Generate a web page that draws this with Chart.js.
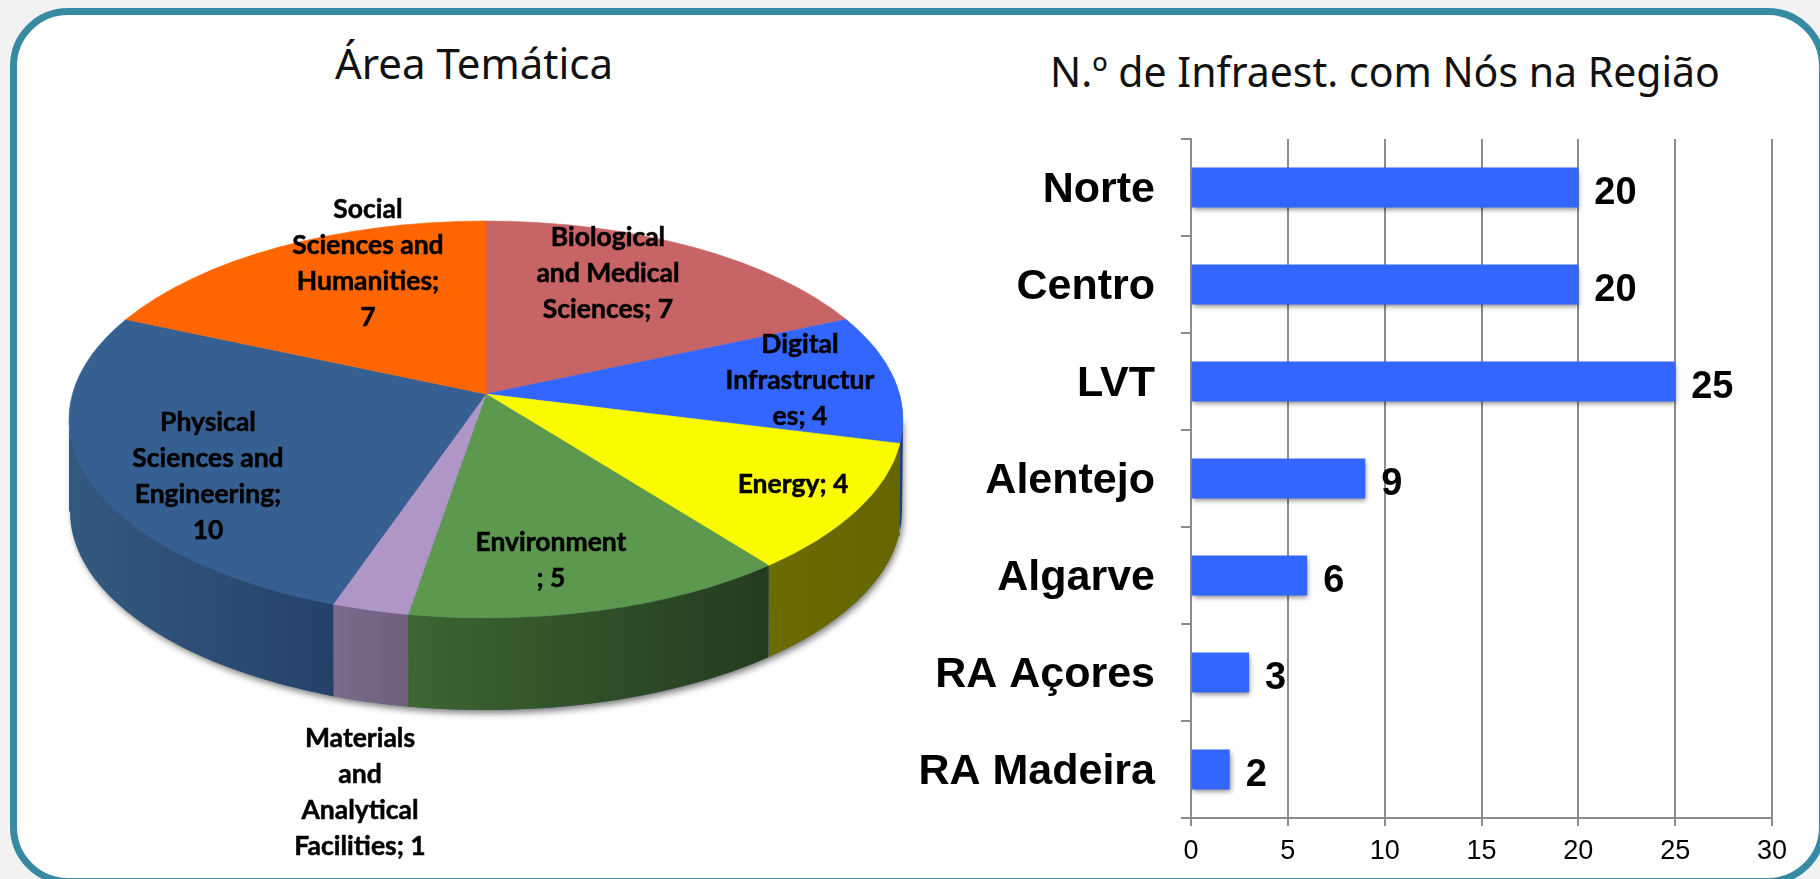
<!DOCTYPE html>
<html><head><meta charset="utf-8">
<script src="https://cdn.jsdelivr.net/npm/chart.js@4/dist/chart.umd.min.js"></script>
<style>
html,body{margin:0;padding:0;width:1820px;height:879px;overflow:hidden;background:#f2f2f2}
#frame{position:absolute;left:10px;top:8px;width:1816px;height:877px;box-sizing:border-box;border:7px solid #388aa3;border-radius:58px;background:#fff}
canvas{position:absolute}
.title{position:absolute;font-family:"Noto Sans",sans-serif;color:#111;white-space:nowrap;transform:translateX(-50%);line-height:1}
</style></head><body>
<div id="frame"></div>
<div class="title" id="t1" style="left:474px;top:42px;font-size:42px"></div>
<div class="title" id="t2" style="left:1385px;top:51px;font-size:41px"></div>
<canvas id="pie" width="972" height="879" style="left:0;top:0;width:972px;height:879px"></canvas>
<canvas id="bar" width="940" height="879" style="left:880px;top:0;width:940px;height:879px"></canvas>
<script>
const pieTitle = "Área Temática";
const barTitle = "N.º de Infraest. com Nós na Região";
const themes = ["Biological and Medical Sciences","Digital Infrastructures","Energy","Environment","Materials and Analytical Facilities","Physical Sciences and Engineering","Social Sciences and Humanities"];
const themeValues = [7,4,4,5,1,10,7];
const themeColors = ["#c76466","#3366ff","#fafa00","#5c994f","#b096c6","#376092","#ff6600"];
const sideLeft  = ["#8a4444","#24408f","#6b6b00","#3e6532","#7d6a8c","#34597f","#b04700"];
const sideRight = ["#8a4444","#1c3070","#666600","#243c20","#6f5f7c","#25426a","#b04700"];
const themeLabels = [
  ["Biological","and Medical","Sciences; 7"],
  ["Digital","Infrastructur","es; 4"],
  ["Energy; 4"],
  ["Environment","; 5"],
  ["Materials","and","Analytical","Facilities; 1"],
  ["Physical","Sciences and","Engineering;","10"],
  ["Social","Sciences and","Humanities;","7"]
];
const labelAnchors = [[608,237],[800,344],[793,484],[551,542],[360,738],[208,422],[368,209]];
const regions = ["Norte","Centro","LVT","Alentejo","Algarve","RA Açores","RA Madeira"];
const regionValues = [20,20,25,9,6,3,2];
const xTicksMax = 30;

document.getElementById('t1').textContent = pieTitle;
document.getElementById('t2').textContent = barTitle;

// Perspective view of the disc: the arc angles come from Chart.js and are projected onto the tilted ellipse.
const RX = 417, RY_TOP = 173, RY_BOT = 224, DEPTH = 92;
const K = (RY_BOT-RY_TOP)/(RY_BOT+RY_TOP);
const XS = RX*Math.sqrt(1-K*K), YS = RY_BOT*(1-K);
const RY = (RY_TOP+RY_BOT)/2, DY = (RY_BOT-RY_TOP)/2;
const project = a => { const w=1-K*Math.sin(a); return [XS*Math.cos(a)/w, YS*Math.sin(a)/w]; };
const ellipseAngle = a => { const [x,y]=project(a); return Math.atan2((y-DY)/RY, x/RX); };
const unwrap = (t,ref) => { while(t<ref-1e-6) t+=2*Math.PI; return t; };

const pie3d = {
  id:'pie3d',
  beforeDatasetsDraw(chart){
    const ctx = chart.ctx, meta = chart.getDatasetMeta(0);
    const cx = meta.data[0].x, cy = meta.data[0].y, ey = cy+DY;
    const spans = meta.data.map(arc=>{
      const t0=ellipseAngle(arc.startAngle);
      return [t0, unwrap(ellipseAngle(arc.endAngle),t0)];
    });
    // soft shadow of the solid
    ctx.save();
    ctx.shadowColor='rgba(0,0,0,0.55)';ctx.shadowBlur=7;ctx.shadowOffsetX=2;ctx.shadowOffsetY=3;
    ctx.fillStyle='#34597f';
    ctx.beginPath();
    ctx.ellipse(cx,ey+DEPTH,RX-2,RY,0,0,Math.PI);
    ctx.lineTo(cx-RX+2,ey);ctx.lineTo(cx+RX-2,ey);ctx.closePath();ctx.fill();
    ctx.restore();
    // side walls (front half of the ellipse only)
    spans.forEach(([t0,t1],i)=>{
      [[0,Math.PI],[2*Math.PI,3*Math.PI],[-2*Math.PI,-Math.PI]].forEach(([lo,hi])=>{
        const s=Math.max(t0,lo), e=Math.min(t1,hi);
        if(e<=s) return;
        const g=ctx.createLinearGradient(cx+RX*Math.cos(e),0,cx+RX*Math.cos(s),0);
        g.addColorStop(0,sideLeft[i]);g.addColorStop(1,sideRight[i]);
        ctx.fillStyle=g;
        ctx.beginPath();
        ctx.ellipse(cx,ey,RX,RY,0,s,e);
        ctx.lineTo(cx+RX*Math.cos(e),ey+RY*Math.sin(e)+DEPTH);
        ctx.ellipse(cx,ey+DEPTH,RX-1,RY,0,e,s,true);
        ctx.closePath();ctx.fill();
      });
    });
    // top face
    meta.data.forEach((arc,i)=>{
      const [t0,t1]=spans[i];
      ctx.fillStyle=arc.options.backgroundColor;
      ctx.strokeStyle=arc.options.backgroundColor;ctx.lineWidth=0.6;
      ctx.beginPath();
      ctx.moveTo(cx,cy);
      ctx.ellipse(cx,ey,RX,RY,0,t0,t1);
      ctx.closePath();ctx.fill();ctx.stroke();
    });
    // labels
    ctx.save();
    ctx.font='bold 26.5px Lato';ctx.fillStyle='#000';ctx.strokeStyle='#000';ctx.lineWidth=0.5;ctx.textAlign='center';ctx.textBaseline='middle';
    themeLabels.forEach((lines,i)=>{
      lines.forEach((t,k)=>{
        const x=labelAnchors[i][0], y=labelAnchors[i][1]+k*36;
        ctx.fillText(t,x,y);ctx.strokeText(t,x,y);
      });
    });
    ctx.restore();
    return false;
  }
};
new Chart(document.getElementById('pie'),{
  type:'pie',
  data:{labels:themes,datasets:[{data:themeValues,backgroundColor:themeColors,borderWidth:0,radius:RX,clip:false}]},
  options:{responsive:false,animation:false,layout:{padding:{bottom:91}},plugins:{legend:{display:false},tooltip:{enabled:false},title:{display:false}}},
  plugins:[pie3d]
});

const barExtras={
  id:'barExtras',
  beforeDatasetsDraw(c){const x=c.ctx;x.save();x.shadowColor='rgba(0,0,0,0.45)';x.shadowBlur=5;x.shadowOffsetX=1;x.shadowOffsetY=3;},
  afterDatasetsDraw(c){
    const x=c.ctx;x.restore();
    x.save();x.font='bold 38px "Liberation Sans"';x.fillStyle='#000';x.textBaseline='middle';x.textAlign='left';
    c.getDatasetMeta(0).data.forEach((b,i)=>x.fillText(String(regionValues[i]),b.x+16,b.y+6));
    x.restore();
  }
};
new Chart(document.getElementById('bar'),{
  type:'bar',
  data:{labels:regions,datasets:[{data:regionValues,backgroundColor:'#3366ff',barPercentage:0.41,categoryPercentage:1}]},
  options:{indexAxis:'y',responsive:false,animation:false,
    layout:{padding:{left:0,right:48,top:139,bottom:0}},
    plugins:{legend:{display:false},tooltip:{enabled:false},title:{display:false}},
    scales:{
      x:{min:0,max:xTicksMax,afterFit(s){s.height=61;},
        ticks:{stepSize:5,color:'#000',font:{family:'"Liberation Sans"',size:27},padding:9,maxRotation:0},
        grid:{color:'#8c8c8c',lineWidth:2,tickLength:8},border:{color:'#8c8c8c',width:2}},
      y:{afterFit(s){s.width=311;},
        ticks:{color:'#000',font:{family:'"Liberation Sans"',size:43,weight:'bold'},padding:26,labelOffset:3},
        grid:{color:'#8c8c8c',lineWidth:2,drawOnChartArea:false,tickLength:10},border:{color:'#8c8c8c',width:2}}
    }},
  plugins:[barExtras]
});
</script>
</body></html>
